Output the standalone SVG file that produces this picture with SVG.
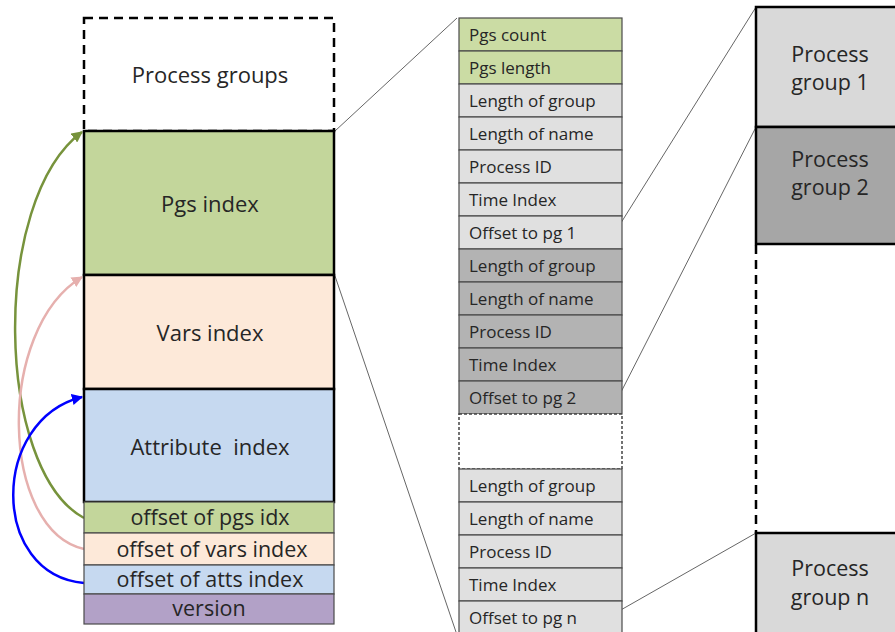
<svg xmlns="http://www.w3.org/2000/svg" width="895" height="632" viewBox="0 0 895 632">
<style>
text{font-family:"Open Sans","Liberation Sans",sans-serif;fill:#262626}
.big{font-size:22px;text-anchor:middle}
.sm{font-size:21.5px;text-anchor:middle}
.row{font-size:17px}
.pg{font-size:21.5px;text-anchor:middle}
.thick{stroke:#000;stroke-width:2.5}
.thin{stroke:#4a4a4a;stroke-width:1.2}
.lg{fill:#e0e0e0}
.dg{fill:#b3b3b3}
.gr{fill:#cbdca4}
.conn{fill:none;stroke:#666;stroke-width:1}
</style>
<defs>
<marker id="ag" viewBox="0 0 10 10" refX="9" refY="5" markerWidth="4.5" markerHeight="4.5" orient="auto"><path d="M0,0 L10,5 L0,10 z" fill="#77933c"/></marker>
<marker id="ap" viewBox="0 0 10 10" refX="9" refY="5" markerWidth="4.5" markerHeight="4.5" orient="auto"><path d="M0,0 L10,5 L0,10 z" fill="#e6b0ae"/></marker>
<marker id="ab" viewBox="0 0 10 10" refX="9" refY="5" markerWidth="4.5" markerHeight="4.5" orient="auto"><path d="M0,0 L10,5 L0,10 z" fill="#0000ff"/></marker>
</defs>

<g id="connectors">
<line class="conn" x1="335" y1="131" x2="457" y2="18"/>
<line class="conn" x1="335" y1="276" x2="456" y2="632"/>
<line class="conn" x1="619" y1="226" x2="756" y2="7"/>
<line class="conn" x1="619" y1="396" x2="756" y2="127"/>
<line class="conn" x1="619" y1="611" x2="756" y2="533"/>
<path d="M84,518 C -5,470 -10,200 82,132" fill="none" stroke="#77933c" stroke-width="2.5" marker-end="url(#ag)"/>
<path d="M84,549 C 0,530 -5,330 82,277" fill="none" stroke="#e6b0ae" stroke-width="2.5" marker-end="url(#ap)"/>
<path d="M84,583 C -10,575 -10,420 82,397" fill="none" stroke="#0000ff" stroke-width="2.5" marker-end="url(#ab)"/>
</g>

<g id="process-groups"><rect x="84" y="18" width="250" height="113" fill="#fff" stroke="#000" stroke-width="2.5" stroke-dasharray="9,6"/><text class="big" x="210" y="83">Process groups</text></g>
<g id="pgs-index"><rect x="84" y="131" width="250" height="144" fill="#c3d69b" class="thick"/><text class="big" x="210" y="212">Pgs index</text></g>
<g id="vars-index"><rect x="84" y="275" width="250" height="114" fill="#fde9d9" class="thick"/><text class="big" x="210" y="341">Vars index</text></g>
<g id="attribute-index"><rect x="84" y="389" width="250" height="113" fill="#c6d9f0" class="thick"/><text class="big" x="210" y="455" xml:space="preserve">Attribute  index</text></g>
<g id="offset-pgs"><rect x="84" y="502" width="250" height="31" fill="#c3d69b" class="thin"/><text class="sm" x="210" y="525">offset of pgs idx</text></g>
<g id="offset-vars"><rect x="84" y="533" width="250" height="32" fill="#fde9d9" class="thin"/><text class="sm" x="212" y="557">offset of vars index</text></g>
<g id="offset-atts"><rect x="84" y="565" width="250" height="29" fill="#c6d9f0" class="thin"/><text class="sm" x="210" y="587">offset of atts index</text></g>
<g id="version"><rect x="84" y="594" width="250" height="30" fill="#b2a1c7" class="thin"/><text class="sm" x="209" y="616">version</text></g>

<g id="pgs-count"><rect x="459" y="18" width="163" height="33" class="gr thin"/><text class="row" x="469" y="41">Pgs count</text></g>
<g id="pgs-length"><rect x="459" y="51" width="163" height="33" class="gr thin"/><text class="row" x="469" y="74">Pgs length</text></g>
<g id="pg1-length-group"><rect x="459" y="84" width="163" height="33" class="lg thin"/><text class="row" x="469" y="107">Length of group</text></g>
<g id="pg1-length-name"><rect x="459" y="117" width="163" height="33" class="lg thin"/><text class="row" x="469" y="140">Length of name</text></g>
<g id="pg1-process-id"><rect x="459" y="150" width="163" height="33" class="lg thin"/><text class="row" x="469" y="173">Process ID</text></g>
<g id="pg1-time-index"><rect x="459" y="183" width="163" height="33" class="lg thin"/><text class="row" x="469" y="206">Time Index</text></g>
<g id="pg1-offset"><rect x="459" y="216" width="163" height="33" class="lg thin"/><text class="row" x="469" y="239">Offset to pg 1</text></g>
<g id="pg2-length-group"><rect x="459" y="249" width="163" height="33" class="dg thin"/><text class="row" x="469" y="272">Length of group</text></g>
<g id="pg2-length-name"><rect x="459" y="282" width="163" height="33" class="dg thin"/><text class="row" x="469" y="305">Length of name</text></g>
<g id="pg2-process-id"><rect x="459" y="315" width="163" height="33" class="dg thin"/><text class="row" x="469" y="338">Process ID</text></g>
<g id="pg2-time-index"><rect x="459" y="348" width="163" height="33" class="dg thin"/><text class="row" x="469" y="371">Time Index</text></g>
<g id="pg2-offset"><rect x="459" y="381" width="163" height="33" class="dg thin"/><text class="row" x="469" y="404">Offset to pg 2</text></g>
<g id="gap"><rect x="459" y="414" width="163" height="55" fill="#fff" stroke="#444" stroke-width="1.5" stroke-dasharray="3,2"/></g>
<g id="pgn-length-group"><rect x="459" y="469" width="163" height="33" class="lg thin"/><text class="row" x="469" y="492">Length of group</text></g>
<g id="pgn-length-name"><rect x="459" y="502" width="163" height="33" class="lg thin"/><text class="row" x="469" y="525">Length of name</text></g>
<g id="pgn-process-id"><rect x="459" y="535" width="163" height="33" class="lg thin"/><text class="row" x="469" y="558">Process ID</text></g>
<g id="pgn-time-index"><rect x="459" y="568" width="163" height="33" class="lg thin"/><text class="row" x="469" y="591">Time Index</text></g>
<g id="pgn-offset"><rect x="459" y="601" width="163" height="35" class="lg thin"/><text class="row" x="469" y="624">Offset to pg n</text></g>

<g id="process-group-1"><rect x="756" y="7" width="150" height="120" fill="#d9d9d9" class="thick"/><text class="pg" x="830" y="62">Process</text><text class="pg" x="830" y="90">group 1</text></g>
<g id="process-group-2"><rect x="756" y="127" width="150" height="117" fill="#a6a6a6" class="thick"/><text class="pg" x="830" y="167">Process</text><text class="pg" x="830" y="195">group 2</text></g>
<line x1="756" y1="245" x2="756" y2="533" stroke="#000" stroke-width="2.5" stroke-dasharray="9,6"/>
<g id="process-group-n"><rect x="756" y="533" width="150" height="110" fill="#d9d9d9" class="thick"/><text class="pg" x="830" y="576">Process</text><text class="pg" x="830" y="605">group n</text></g>
</svg>
